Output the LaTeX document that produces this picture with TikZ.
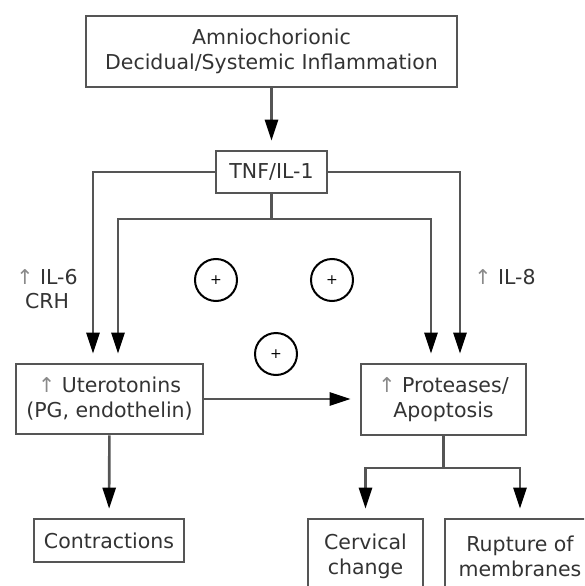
\documentclass[tikz,border=0pt]{standalone}
\usepackage{fontspec}
\setmainfont{DejaVu Sans}
\usepackage{xcolor}
\usetikzlibrary{arrows.meta}
\definecolor{linegray}{HTML}{555555}
\definecolor{textgray}{HTML}{333333}
\definecolor{upgray}{HTML}{8A8A8A}
\newcommand{\up}{{\color{upgray}↑}}

\begin{document}
\begin{tikzpicture}[
    x=1pt,y=-1pt,
    stage/.style={rectangle,draw=linegray,line width=2.6pt,inner sep=0pt,align=center,
                  text=textgray,font=\fontsize{20.5}{25}\selectfont},
    link/.style={draw=linegray,line width=2.6pt},
    arrow/.style={link,-{Triangle[length=21pt,width=13pt,color=black]},shorten >=9pt},
    plus/.style={circle,draw=black,line width=2pt,minimum size=42pt,inner sep=0pt,
                 font=\fontsize{14}{14}\selectfont},
    note/.style={align=center,text=textgray,font=\fontsize{20.5}{24}\selectfont}
]
\useasboundingbox (0,0) rectangle (584,586);
\clip (0,0) rectangle (584,586);

\node[stage,minimum width=371pt,minimum height=71pt] (infl) at (271.5,51.5) {Amniochorionic\\Decidual/Systemic Inflammation};
\node[stage,minimum width=111pt,minimum height=42pt] (tnf)  at (271.5,172)  {TNF/IL-1};
\node[stage,minimum width=187pt,minimum height=70pt] (uter) at (109.5,399)  {\up\ Uterotonins\\(PG, endothelin)};
\node[stage,minimum width=165pt,minimum height=71pt] (prot) at (443.5,399.5) {\up\ Proteases/\\Apoptosis};
\node[stage,minimum width=150pt,minimum height=43pt] (contr) at (109,540.5) {Contractions};
\node[stage,minimum width=115pt,minimum height=74pt] (cerv) at (365.5,556)  {Cervical\\change};
\node[stage,minimum width=150pt,minimum height=74pt] (rupt) at (520,556)    {Rupture of\\membranes};

\node[plus] (plusl) at (216,280) {+};
\node[plus] (plusr) at (332,280) {+};
\node[plus] (plusm) at (276,354) {+};

\node[note] (il6) at (47,289) {\up\ IL-6\\CRH};
\node[note] (il8) at (505,277) {\up\ IL-8};

\coordinate (split) at (271.5,219);
\coordinate (fork)  at (443.5,468);

\draw[arrow] (infl) -- (tnf);
\draw[arrow] (tnf.west) -| ([xshift=-16.5pt]uter.north);
\draw[arrow] (tnf.east) -| ([xshift=16.5pt]prot.north);
\draw[link]  (tnf.south) -- (split);
\draw[arrow] (split) -| ([xshift=8.5pt]uter.north);
\draw[arrow] (split) -| ([xshift=-12.5pt]prot.north);
\draw[arrow] (uter.east) -- (uter.east -| prot.west);
\draw[arrow] (uter) -- (contr);
\draw[link]  (prot.south) -- (fork);
\draw[arrow] (fork) -| (cerv.north);
\draw[arrow] (fork) -| (rupt.north);
\end{tikzpicture}
\end{document}
